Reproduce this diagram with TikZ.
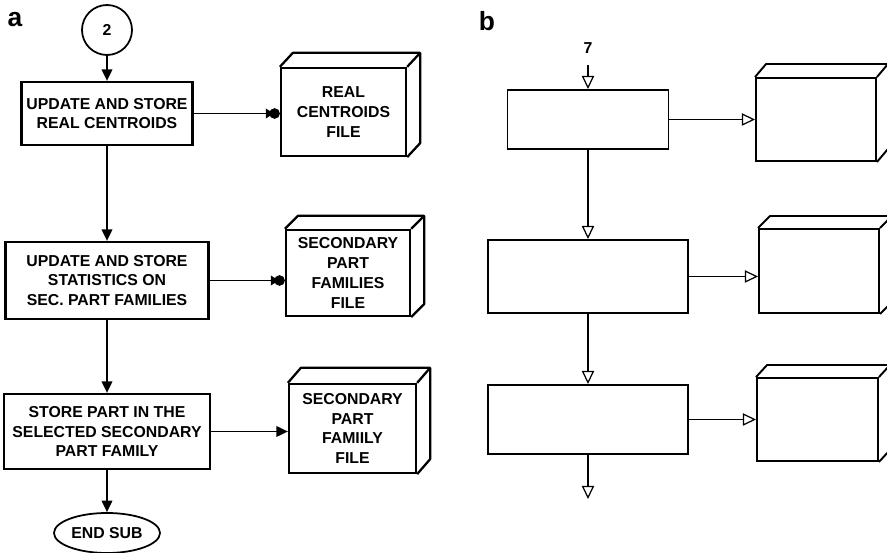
\documentclass[tikz,border=0pt]{standalone}
\usepackage{fontspec}
\setmainfont{Liberation Sans}
\usetikzlibrary{arrows.meta,shapes.geometric}

\tikzset{
  proc/.style={draw,line width=1.3pt,inner sep=0pt,align=center,
    font=\fontsize{9}{11.3}\selectfont\bfseries},
  wh/.style 2 args={minimum width=#1*0.02cm,minimum height=#2*0.02cm},
  panel/.style={font=\fontsize{15}{16}\selectfont\bfseries},
  flow/.style={line width=0.95pt,-{Triangle[length=6.5pt,width=6pt]}},
  store/.style={line width=0.95pt,-{Triangle[length=4.5pt,width=5.5pt,sep=-2.5pt]Circle[length=6pt]}},
  hollow/.style={line width=0.7pt,-{Triangle[open,length=7.5pt,width=7pt]}},
}

\begin{document}
\begin{tikzpicture}[x=0.02cm,y=-0.02cm]
  \newcommand\filecube[5]{
  \node[proc,#3] (#1) at (#2) {#5};
  \draw[line width=1.3pt,line join=round,#3] (#1.north west) -- ++(#4)
    -- ([shift={(#4)}]#1.north east) -- ([shift={(#4)}]#1.south east) -- (#1.south east);
  \draw[line width=1.3pt,#3] (#1.north east) -- ++(#4);}
  \useasboundingbox (0,0) rectangle (887,553);
  \clip (0,0) rectangle (887,553);

  % part a
  \node[panel] (la) at (15,20) {a};
  \node[proc,circle,minimum size=50*0.02cm,line width=1pt] (c2) at (107,30) {2};
  \node[proc,wh={171}{63}] (a1) at (107,113.5) {UPDATE AND STORE\\REAL CENTROIDS};
  \node[proc,wh={203}{77}] (a2) at (107,280.5) {UPDATE AND STORE\\STATISTICS ON\\SEC. PART FAMILIES};
  \node[proc,wh={206}{75}] (a3) at (107,431.5) {STORE PART IN THE\\SELECTED SECONDARY\\PART FAMILY};
  \node[proc,ellipse,wh={106}{40},line width=1pt] (end) at (107,533) {END SUB};
  \filecube{f1}{343.5,112}{wh={125}{88}}{13,-14}{REAL\\CENTROIDS\\FILE}
  \filecube{f2}{348,273}{wh={124}{86}}{13,-13}{SECONDARY\\PART\\FAMILIES\\FILE}
  \filecube{f3}{352.5,428.5}{wh={127}{89}}{13,-15}{SECONDARY\\PART\\FAMIILY\\FILE}
  \draw[flow] (c2) -- (a1);
  \draw[flow] (a1) -- (a2);
  \draw[flow] (a2) -- (a3);
  \draw[flow] (a3) -- (end);
  \draw[store] (a1) -- (a1 -| f1.west);
  \draw[store] (a2) -- (a2 -| f2.west);
  \draw[flow] (a3) -- (a3 -| f3.west);

  % part b
  \node[panel] (lb) at (487,21) {b};
  \node[font=\fontsize{9}{10}\selectfont\bfseries] (n7) at (588,48) {7};
  \coordinate (in7) at (588,65);
  \coordinate (out) at (588,499);
  \node[proc,wh={161}{59},line width=1.1pt] (b1) at (588,119.5) {};
  \node[proc,wh={200}{73},line width=1.1pt] (b2) at (588,276.5) {};
  \node[proc,wh={200}{69},line width=1.1pt] (b3) at (588,419.5) {};
  \filecube{g1}{816,119.5}{wh={120}{83},line width=1.1pt}{11,-13}{}
  \filecube{g2}{819,271}{wh={120}{84},line width=1.1pt}{12,-12}{}
  \filecube{g3}{817.5,419.5}{wh={121}{83},line width=1.1pt}{11,-12}{}
  \draw[hollow] (in7) -- (b1);
  \draw[hollow] (b1) -- (b2);
  \draw[hollow] (b2) -- (b3);
  \draw[hollow] (b3) -- (out);
  \foreach \i in {1,2,3}
    \draw[hollow] (b\i) -- (b\i -| g\i.west);
\end{tikzpicture}
\end{document}
